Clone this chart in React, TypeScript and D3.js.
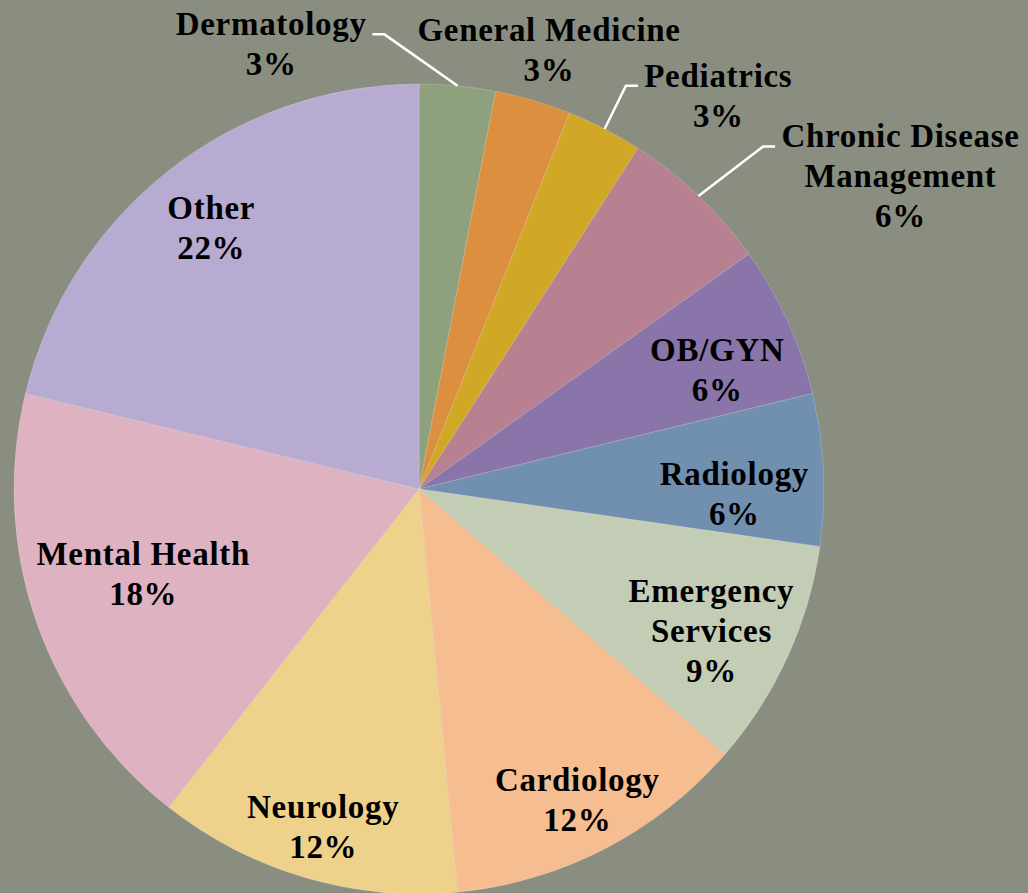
import React, { useEffect, useRef } from "react";
import * as d3 from "d3";

const categories = [
  "Dermatology",
  "General Medicine",
  "Pediatrics",
  "Chronic Disease Management",
  "OB/GYN",
  "Radiology",
  "Emergency Services",
  "Cardiology",
  "Neurology",
  "Mental Health",
  "Other",
];
const values = [1, 1, 1, 2, 2, 2, 3, 4, 4, 6, 7];
const percentLabels = ["3%", "3%", "3%", "6%", "6%", "6%", "9%", "12%", "12%", "18%", "22%"];
const labelLines = [
  ["Dermatology"],
  ["General Medicine"],
  ["Pediatrics"],
  ["Chronic Disease", "Management"],
  ["OB/GYN"],
  ["Radiology"],
  ["Emergency", "Services"],
  ["Cardiology"],
  ["Neurology"],
  ["Mental Health"],
  ["Other"],
];
const colors = [
  "#8fa07c",
  "#dc8f3e",
  "#d1a726",
  "#b88191",
  "#8a75ab",
  "#7190b0",
  "#c3cdb6",
  "#f6bd91",
  "#eed18b",
  "#dfb2c1",
  "#b7abd2",
];

// label layout: radius as fraction of pie radius, angle offset (deg) from slice mid-angle
const labelRadius = [1.156, 1.13, 1.219, 1.416, 0.792, 0.778, 0.802, 0.863, 0.868, 0.714, 0.824];
const labelAngleOffset = [-23.9, 0.1, 10.0, 13.4, 2.8, 3.8, 1.4, 0.4, -0.5, 1.8, -0.4];
// leader line side: 1 = line leaves from right edge of label, -1 = left edge, 0 = none
const leaderSide = [1, 0, -1, -1, 0, 0, 0, 0, 0, 0, 0];

const W = 1028;
const H = 893;
const CX = 419;
const CY = 489;
const R = 405;
const FONT = "'Liberation Serif', 'Times New Roman', serif";
const FS = 33;
const LS = 0.7;
const LH = 40;

export default function App() {
  const ref = useRef<SVGSVGElement | null>(null);

  useEffect(() => {
    document.body.style.margin = "0";
    const svg = d3.select(ref.current);
    svg.selectAll("*").remove();

    svg.append("rect").attr("width", W).attr("height", H).attr("fill", "#8a8e80");

    const data = categories.map((c, i) => ({ c, v: values[i], i }));
    const pie = d3.pie<any>().value((d) => d.v).sort(null);
    const arcs = pie(data);
    const arc = d3.arc<any>().innerRadius(0).outerRadius(R);

    const g = svg.append("g").attr("transform", `translate(${CX},${CY})`);
    g.selectAll("path")
      .data(arcs)
      .enter()
      .append("path")
      .attr("d", arc as any)
      .attr("fill", (d: any) => colors[d.data.i])
      .attr("stroke", "rgba(255,255,255,0.25)")
      .attr("stroke-width", 0.75);

    const lg = svg.append("g").attr("transform", `translate(${CX},${CY})`);
    arcs.forEach((a: any) => {
      const i = a.data.i;
      const mid = (a.startAngle + a.endAngle) / 2;
      const ang = mid + (labelAngleOffset[i] * Math.PI) / 180;
      const r = labelRadius[i] * R;
      const lx = r * Math.sin(ang);
      const ly = -r * Math.cos(ang);
      const lines = [...labelLines[i], percentLabels[i]];
      const n = lines.length;
      const t = lg
        .append("text")
        .attr("font-family", FONT)
        .attr("font-weight", "bold")
        .attr("font-size", FS)
        .attr("letter-spacing", LS)
        .attr("fill", "#000")
        .attr("text-anchor", "middle");
      const spans: any[] = [];
      lines.forEach((ln, k) => {
        const cy = ly + (k - (n - 1) / 2) * LH;
        const s = t.append("tspan").attr("x", lx + LS / 2).attr("y", cy + 10.5).text(ln);
        spans.push(s);
      });
      if (leaderSide[i] !== 0) {
        const first = spans[0].node() as SVGTSpanElement;
        const w = first.getComputedTextLength();
        const by = ly - ((n - 1) / 2) * LH + 9.5;
        const ex = lx + leaderSide[i] * (w / 2 + 6);
        const ex2 = ex + leaderSide[i] * 12;
        const px = R * Math.sin(mid);
        const py = -R * Math.cos(mid);
        lg.append("polyline")
          .attr("points", `${ex},${by} ${ex2},${by} ${px},${py}`)
          .attr("fill", "none")
          .attr("stroke", "#ffffff")
          .attr("stroke-width", 2.5);
      }
    });
  }, []);

  return <svg ref={ref} width={W} height={H} style={{ display: "block" }} />;
}
